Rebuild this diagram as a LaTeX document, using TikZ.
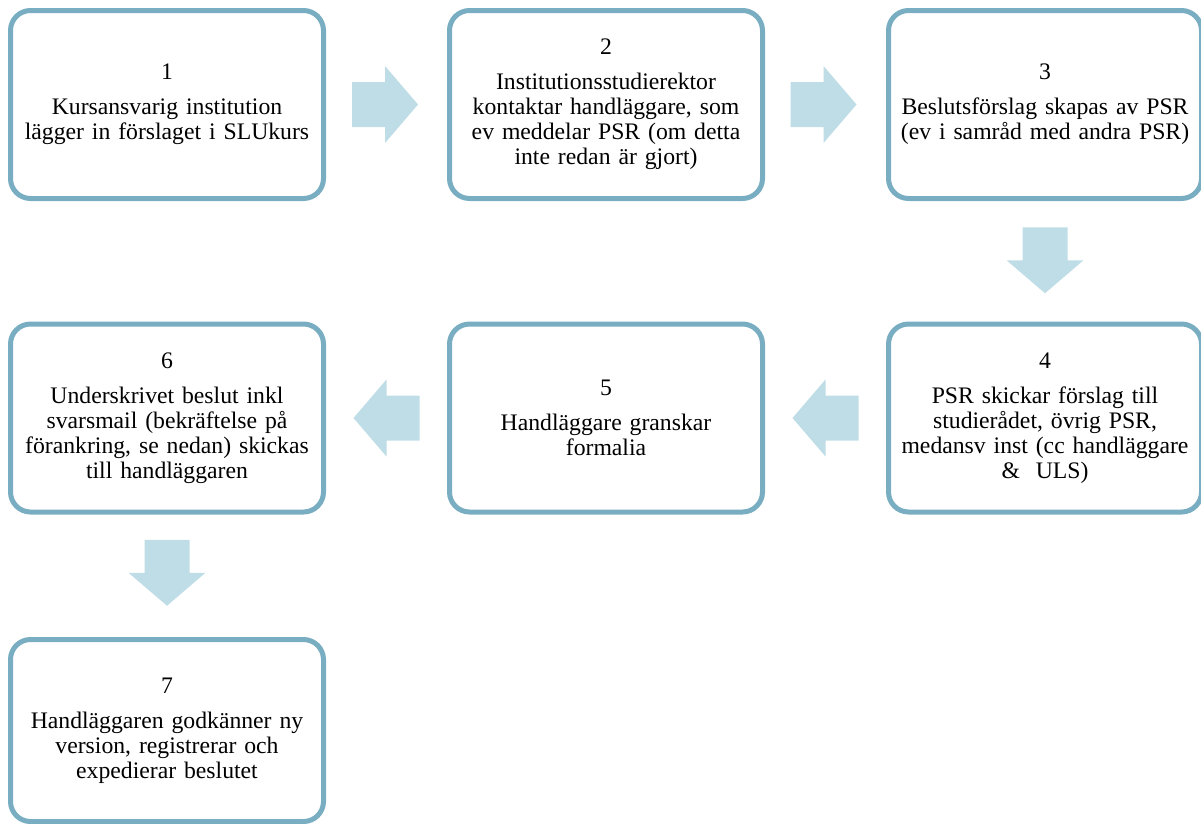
\documentclass[tikz,border=0pt]{standalone}
\usepackage{fontspec}
\setmainfont{Liberation Serif}
\usetikzlibrary{calc}
\definecolor{boxline}{RGB}{121,174,194}
\definecolor{arrowfill}{RGB}{191,221,230}
\tikzset{
  stepbox/.style={draw=boxline, line width=5pt, rounded corners=20pt, fill=white,
    minimum width=313pt, minimum height=188pt, inner sep=0pt,
    text width=305pt, align=center, font=\fontsize{23.7}{25}\selectfont},
  blockarrow/.pic={\fill[arrowfill] (-33,-22.5) -- (0,-22.5) -- (0,-38.5) -- (33,0) -- (0,38.5) -- (0,22.5) -- (-33,22.5) -- cycle;}
}
\begin{document}
\begin{tikzpicture}[x=1pt,y=-1pt]
\useasboundingbox (0,0) rectangle (1201,823);
\node[stepbox] (b1) at (167,104.5) {1\\[10pt]Kursansvarig institution\\lägger in förslaget i SLUkurs};
\node[stepbox] (b2) at (606,104.5) {2\\[10pt]Institutionsstudierektor\\kontaktar handläggare, som\\ev meddelar PSR (om detta\\inte redan är gjort)};
\node[stepbox] (b3) at (1045,104.5) {3\\[10pt]Beslutsförslag skapas av PSR\\(ev i samråd med andra PSR)};
\node[stepbox] (b4) at (1045,418) {4\\[10pt]PSR skickar förslag till\\studierådet, övrig PSR,\\medansv inst (cc handläggare\\\&\ \ ULS)};
\node[stepbox] (b5) at (606,418) {5\\[10pt]Handläggare granskar\\formalia};
\node[stepbox] (b6) at (167,418) {6\\[10pt]Underskrivet beslut inkl\\svarsmail (bekräftelse på\\förankring, se nedan) skickas\\till handläggaren};
\node[stepbox, minimum height=182pt] (b7) at (167,730.5) {7\\[10pt]Handläggaren godkänner ny\\version, registrerar och\\expedierar beslutet};
\path (b1.east) -- (b2.west) coordinate[pos=0.5] (m12);
\path (b2.east) -- (b3.west) coordinate[pos=0.5] (m23);
\path (b3.south) -- (b4.north) coordinate[pos=0.5] (m34);
\path (b4.west) -- (b5.east) coordinate[pos=0.5] (m45);
\path (b5.west) -- (b6.east) coordinate[pos=0.5] (m56);
\path (b6.south) -- (b7.north) coordinate[pos=0.5] (m67);
\pic at ($(m12)+(-1.5,0)$) {blockarrow};
\pic at ($(m23)+(-2,0)$) {blockarrow};
\pic[rotate=-90] at ($(m34)+(0,-1)$) {blockarrow};
\pic[rotate=180] at (m45) {blockarrow};
\pic[rotate=180] at (m56) {blockarrow};
\pic[rotate=-90] at ($(m67)+(0,-3)$) {blockarrow};
\end{tikzpicture}
\end{document}
